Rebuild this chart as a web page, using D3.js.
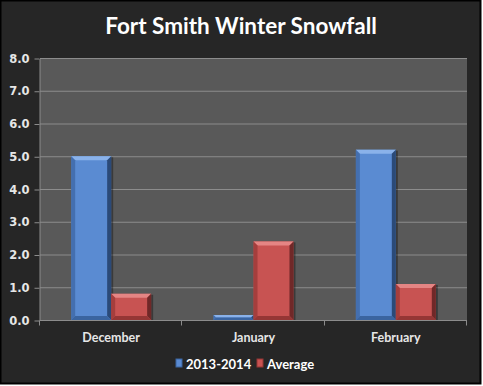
<!DOCTYPE html>
<html>
<head>
<meta charset="utf-8">
<script src="https://cdnjs.cloudflare.com/ajax/libs/d3/7.8.5/d3.min.js"></script>
<style>
  body { margin: 0; background: #ffffff; }
  svg { display: block; }
</style>
</head>
<body>
<script>
// chart data
var months = ["December", "January", "February"];
var seriesNames = ["2013-2014", "Average"];
var season = [5.0, 0.15, 5.2];
var average = [0.8, 2.4, 1.1];
var yTicks = [0, 1, 2, 3, 4, 5, 6, 7, 8];

var colors = {
    "2013-2014": { main: "#5a8bd2", light: "#8ab2ea", dark: "#3a64a0", shade: "#1f3a62" },
    "Average":   { main: "#c85352", light: "#e58584", dark: "#953635", shade: "#5a1e1e" }
};

var W = 483, H = 386;
var plot = { left: 40, right: 467, top: 58, bottom: 320 };

var svg = d3.select("body").append("svg")
    .attr("width", W).attr("height", H);

// outer frame
svg.append("rect")
    .attr("x", 0.5).attr("y", 0.5)
    .attr("width", 480).attr("height", 383)
    .attr("fill", "#262626")
    .attr("stroke", "#000").attr("stroke-width", 2);

svg.append("text")
    .attr("x", 241).attr("y", 34)
    .attr("text-anchor", "middle")
    .attr("fill", "#ffffff")
    .style("font-family", "Lato, 'Open Sans', sans-serif")
    .style("font-weight", "bold")
    .style("font-size", "22.5px")
    .text("Fort Smith Winter Snowfall");

var x0 = d3.scaleBand()
    .domain(months)
    .range([plot.left, plot.right]);

var x1 = d3.scaleBand()
    .domain(seriesNames)
    .range([0, x0.bandwidth()])
    .paddingOuter(0.78);

var y = d3.scaleLinear()
    .domain([0, 8])
    .range([plot.bottom, plot.top]);

// plot area
svg.append("rect")
    .attr("x", plot.left).attr("y", plot.top)
    .attr("width", plot.right - plot.left)
    .attr("height", plot.bottom - plot.top)
    .attr("fill", "#595959");

// gridlines
svg.append("g")
    .selectAll("line")
    .data(yTicks.slice(1))
    .enter().append("line")
    .attr("x1", plot.left).attr("x2", plot.right)
    .attr("y1", d => y(d) + 0.5).attr("y2", d => y(d) + 0.5)
    .attr("stroke", "#8c8c8c").attr("stroke-width", 1);

// y axis
var yAxis = svg.append("g")
    .attr("transform", "translate(" + (plot.left - 0.5) + ",0.5)")
    .call(d3.axisLeft(y).tickValues(yTicks).tickFormat(d3.format(".1f")).tickSize(5).tickSizeOuter(0));
yAxis.select(".domain").attr("stroke", "#8c8c8c");
yAxis.selectAll(".tick line").attr("stroke", "#8c8c8c");
yAxis.selectAll("text")
    .attr("fill", "#e6e6e6")
    .attr("x", -10)
    .style("font-family", "'DejaVu Sans', Verdana, sans-serif")
    .style("font-weight", "bold")
    .style("font-size", "11.5px");

// x axis ticks at category boundaries
var xAxis = svg.append("g")
    .attr("transform", "translate(0," + (plot.bottom + 0.5) + ")");
xAxis.append("line")
    .attr("x1", plot.left).attr("x2", plot.right)
    .attr("stroke", "#8c8c8c");
xAxis.selectAll(".bound")
    .data(months.concat(["end"]))
    .enter().append("line")
    .attr("class", "bound")
    .attr("x1", (d, i) => Math.round(plot.left + i * x0.bandwidth()) - 0.5)
    .attr("x2", (d, i) => Math.round(plot.left + i * x0.bandwidth()) - 0.5)
    .attr("y1", 0).attr("y2", 5)
    .attr("stroke", "#8c8c8c");
xAxis.selectAll("text")
    .data(months)
    .enter().append("text")
    .attr("x", d => x0(d) + x0.bandwidth() / 2)
    .attr("y", 21)
    .attr("text-anchor", "middle")
    .attr("fill", "#e6e6e6")
    .style("font-family", "Lato, 'Open Sans', sans-serif")
    .style("font-weight", "bold")
    .style("font-size", "12.5px")
    .text(d => d);

// bevelled bars
var rows = [];
months.forEach(function (m, i) {
    rows.push({ month: m, series: "2013-2014", value: season[i] });
    rows.push({ month: m, series: "Average", value: average[i] });
});

function bevel(g, bx, by, bw, bh, c) {
    var e = Math.min(4, bh / 2, bw / 2);
    g.append("rect").attr("x", bx + 2).attr("y", by + 1).attr("width", bw).attr("height", bh - 1)
        .attr("fill", "#000").attr("opacity", 0.35);
    g.append("rect").attr("x", bx).attr("y", by).attr("width", bw).attr("height", bh)
        .attr("fill", c.main);
    // top
    g.append("polygon").attr("points", [[bx, by], [bx + bw, by], [bx + bw - e, by + e], [bx + e, by + e]].join(" "))
        .attr("fill", c.light);
    // left
    g.append("polygon").attr("points", [[bx, by], [bx + e, by + e], [bx + e, by + bh - e], [bx, by + bh]].join(" "))
        .attr("fill", c.dark).attr("opacity", 0.7);
    // right
    g.append("polygon").attr("points", [[bx + bw, by], [bx + bw - e, by + e], [bx + bw - e, by + bh - e], [bx + bw, by + bh]].join(" "))
        .attr("fill", c.shade).attr("opacity", 0.8);
    // bottom
    g.append("polygon").attr("points", [[bx, by + bh], [bx + e, by + bh - e], [bx + bw - e, by + bh - e], [bx + bw, by + bh]].join(" "))
        .attr("fill", c.dark);
}

var bars = svg.append("g");
rows.forEach(function (d) {
    var bx = x0(d.month) + x1(d.series);
    var by = y(d.value);
    bevel(bars, bx, by, x1.bandwidth(), plot.bottom - by, colors[d.series]);
});

// legend
var legend = svg.append("g").attr("transform", "translate(0,364)");
var legendItems = [{ name: seriesNames[0], x: 176 }, { name: seriesNames[1], x: 257 }];
legendItems.forEach(function (it) {
    var c = colors[it.name];
    legend.append("rect").attr("x", it.x).attr("y", -5).attr("width", 6).attr("height", 8)
        .attr("fill", c.main).attr("stroke", c.dark).attr("stroke-width", 1);
    legend.append("text")
        .attr("x", it.x + 10).attr("y", 4.5)
        .attr("fill", "#ffffff")
        .style("font-family", "Lato, 'Open Sans', sans-serif")
        .style("font-weight", "bold")
        .style("font-size", "13px")
        .text(it.name);
});
</script>
</body>
</html>
